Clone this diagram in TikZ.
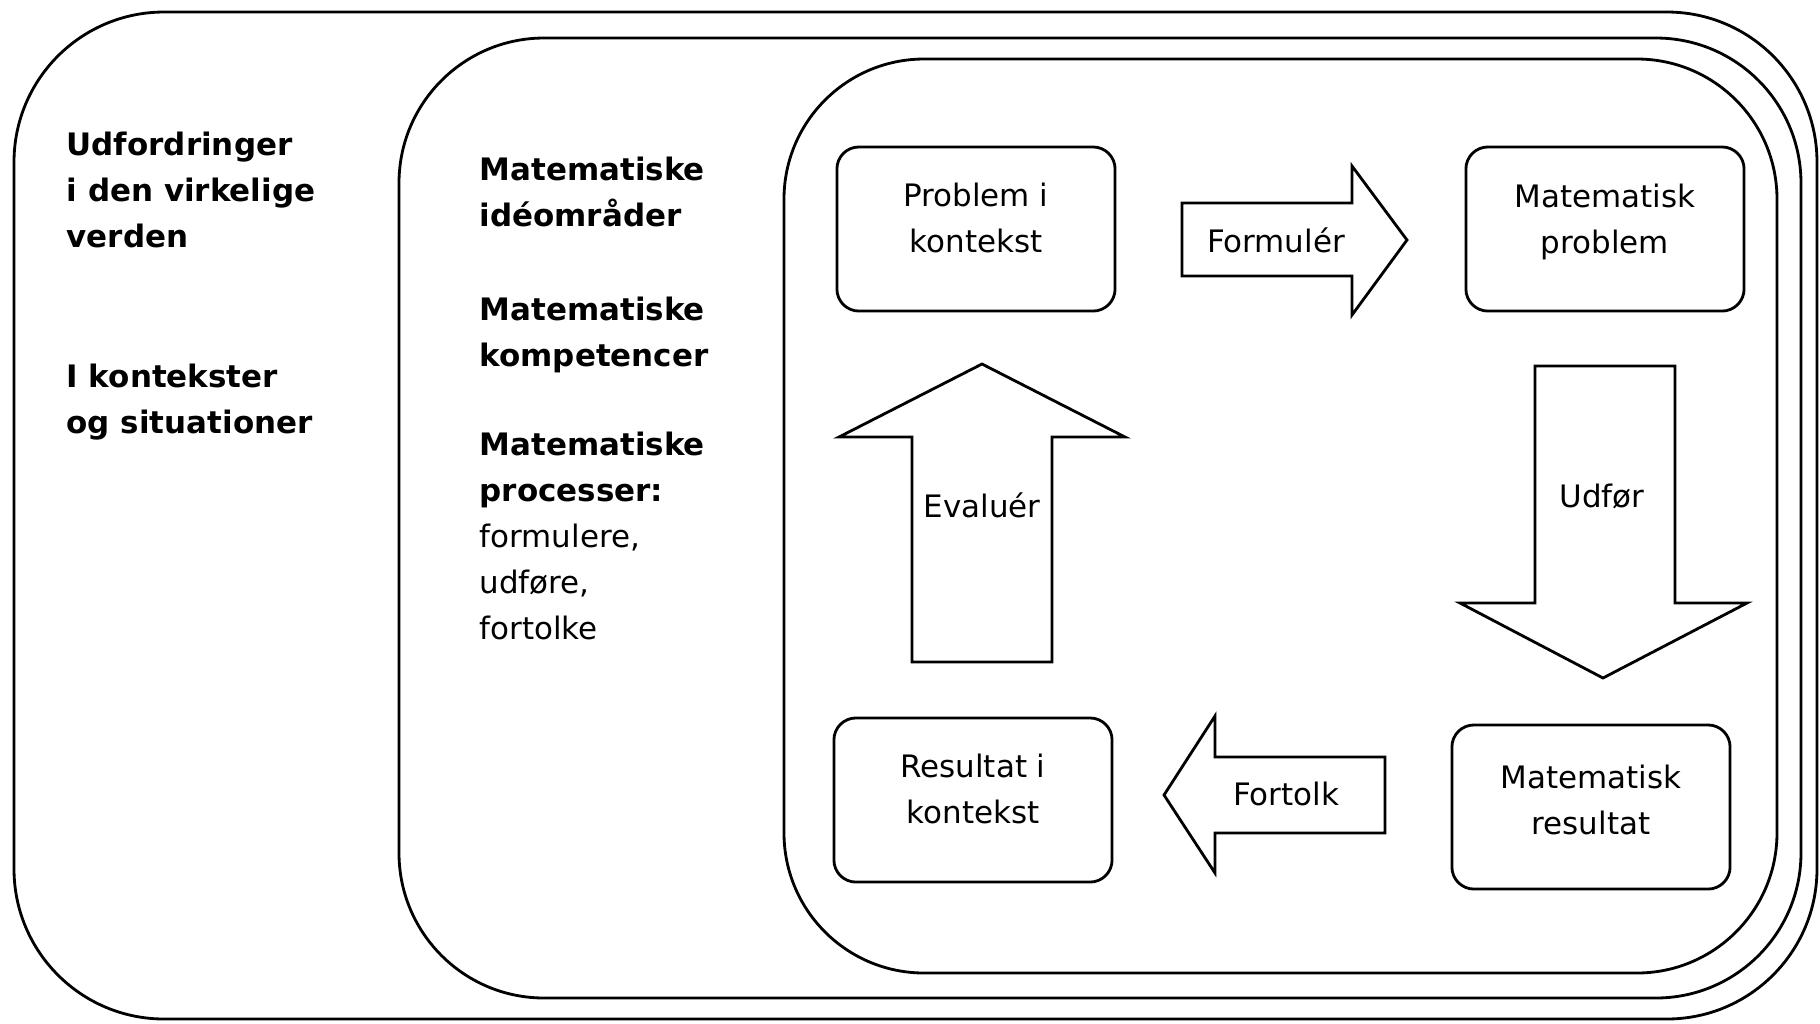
\documentclass[tikz,border=0pt]{standalone}
\usepackage{fontspec}
\setmainfont{DejaVu Sans}
\usetikzlibrary{positioning}

\begin{document}
\begin{tikzpicture}[
  x=0.01cm, y=-0.01cm,
  every node/.style={font=\fontsize{8.8}{13.1}\selectfont, inner sep=0pt},
  frame/.style={draw, line width=0.8pt},
  stepbox/.style={
    draw, line width=0.8pt, rounded corners=0.22cm,
    minimum width=2.78cm, minimum height=1.64cm,
  },
  boxtext/.style={align=center, yshift=#1},
  boxtext/.default=0.11cm,
  blockarrow/.style={draw, line width=0.8pt, line join=miter},
  heading/.style={font=\fontsize{8.8}{13.1}\selectfont\bfseries, align=left, anchor=north west},
]
\useasboundingbox (0,0) rectangle (1820,1023);

% nested frames
\draw[frame, rounded corners=1.5cm]  (14,12)  rectangle (1817,1019);
\draw[frame, rounded corners=1.45cm] (399,38) rectangle (1801,998);
\draw[frame, rounded corners=1.4cm]  (784,59) rectangle (1777,973);

% outer column
\node[heading] (challenges) at (66,131) {Udfordringer\\i den virkelige\\verden};
\node[heading] (contexts) at (66,363) {I kontekster\\og situationer};

% middle column
\node[heading] (ideas) at (479,156) {Matematiske\\idéområder};
\node[heading] (competences) at (479,296) {Matematiske\\kompetencer};
\node[heading] (processes) at (479,431) {Matematiske\\processer:\\\mdseries formulere,\\\mdseries udføre,\\\mdseries fortolke};

% the cycle
\node[stepbox, label={[boxtext]center:Problem i\\kontekst}] (probctx) at (976,229) {};
\node[stepbox, label={[boxtext=0.07cm]center:Matematisk\\problem}] (mathprob) at (1605,229) {};
\node[stepbox, label={[boxtext=0.07cm]center:Matematisk\\resultat}] (mathres) at (1591,807) {};
\node[stepbox, label={[boxtext]center:Resultat i\\kontekst}] (resctx) at (973,800) {};

\draw[blockarrow] (1182,203) -- (1352,203) -- (1352,166) -- (1407,240)
  -- (1352,315) -- (1352,276) -- (1182,276) -- cycle;
\node (formuler) at (1276,240) {Formulér};

\draw[blockarrow] (1535,366) -- (1675,366) -- (1675,603) -- (1747,603)
  -- (1603,678) -- (1460,603) -- (1535,603) -- cycle;
\node (udfor) at (1602,496) {Udfør};

\draw[blockarrow] (1385,757) -- (1215,757) -- (1215,716) -- (1164,795)
  -- (1215,873) -- (1215,833) -- (1385,833) -- cycle;
\node (fortolk) at (1286,794) {Fortolk};

\draw[blockarrow] (912,662) -- (912,437) -- (839,437) -- (982,364)
  -- (1125,437) -- (1052,437) -- (1052,662) -- cycle;
\node (evaluer) at (982,505) {Evaluér};
\end{tikzpicture}
\end{document}
